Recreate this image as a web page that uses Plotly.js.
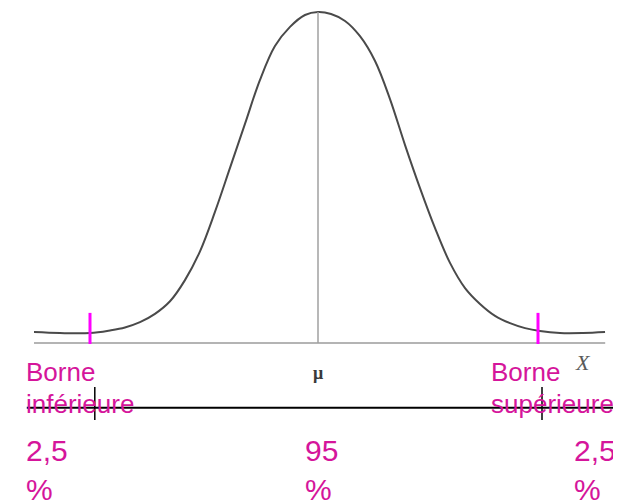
<!DOCTYPE html>
<html>
<head>
<meta charset="utf-8">
<script src="https://cdn.plot.ly/plotly-3.0.1.min.js"></script>
<style>
  html, body { margin: 0; padding: 0; background: #ffffff; }
  #chart { width: 613px; height: 502px; overflow: hidden; }
</style>
</head>
<body>
<div id="chart"></div>
<script>
// Bell curve (x in sigma-like units around the mean, height relative to the peak)
const curveX = [-3.550, -3.225, -2.850, -2.600, -2.413, -2.225, -2.038, -1.850, -1.663, -1.475,
                -1.288, -1.100, -0.913, -0.725, -0.538, -0.350, -0.163, 0.000, 0.163, 0.338,
                 0.525, 0.713, 0.900, 1.088, 1.275, 1.463, 1.650, 1.838, 2.025, 2.213,
                 2.400, 2.588, 2.775, 3.025, 3.313, 3.588];
const curveY = [0.033, 0.030, 0.030, 0.038, 0.047, 0.063, 0.088, 0.126, 0.190, 0.277,
                0.396, 0.529, 0.662, 0.795, 0.897, 0.955, 0.991, 1.000, 0.994, 0.973,
                0.927, 0.852, 0.737, 0.598, 0.468, 0.347, 0.242, 0.166, 0.118, 0.082,
                0.060, 0.045, 0.036, 0.030, 0.030, 0.033];

const meanX = 0;
const peakY = 1.0;
const boundsX = [-2.85, 2.75];          // lower / upper bound marks on the curve
const scaleTicksX = [-2.79, 2.80];      // marks on the lower scale line
const boundWord = "Borne";
const boundSides = ["inférieure", "supérieure"];
const shareLabels = ["2,5<br>%", "95<br>%", "2,5<br>%"];

const W = 613, H = 502;
const xRange = [-3.975, 3.6875];
const yRange = [-0.4804, 1.0363];
const px = v => v / W;            // pixel -> paper x
const py = v => 1 - v / H;        // pixel -> paper y

const pink = "#d5159b";
const magenta = "#ff00ff";

const traces = [{
  x: curveX, y: curveY, type: "scatter", mode: "lines",
  line: { color: "#4a4a4a", width: 2, shape: "spline", smoothing: 1.0 },
  hoverinfo: "skip"
}];

const shapes = [
  // horizontal axis under the curve
  { type: "line", xref: "x", yref: "y", x0: -3.55, x1: 3.59, y0: 0, y1: 0,
    line: { color: "#b4b4b4", width: 2 } },
  // mean line
  { type: "line", xref: "x", yref: "y", x0: meanX, x1: meanX, y0: 0, y1: peakY,
    line: { color: "#a0a0a0", width: 1.5 } },
  // lower scale line
  { type: "line", xref: "x", yref: "y", x0: -3.64, x1: 3.69, y0: -0.196, y1: -0.196,
    line: { color: "#000000", width: 2 } }
];
boundsX.forEach(b => shapes.push({
  type: "line", xref: "x", yref: "y", x0: b, x1: b, y0: -0.003, y1: 0.091,
  line: { color: magenta, width: 3 }
}));
scaleTicksX.forEach(b => shapes.push({
  type: "line", xref: "x", yref: "y", x0: b, x1: b, y0: -0.133, y1: -0.233,
  line: { color: "#000000", width: 1.5 }
}));

const labelFont = { family: "Liberation Sans, Arial, sans-serif", size: 26, color: pink };
const shareFont = { family: "Liberation Sans, Arial, sans-serif", size: 30, color: pink };

const annotations = [
  { text: "<b>\u03bc</b>", xref: "paper", yref: "paper", x: px(318), y: py(373),
    xanchor: "center", yanchor: "middle", showarrow: false,
    font: { family: "Liberation Serif, serif", size: 18, color: "#3a3a3a" } },
  { text: "<i>X</i>", xref: "paper", yref: "paper", x: px(583), y: py(362),
    xanchor: "center", yanchor: "middle", showarrow: false,
    font: { family: "Liberation Serif, serif", size: 22, color: "#5a5a5a" } },
  { text: shareLabels[0], xref: "paper", yref: "paper", x: px(24), y: py(432),
    xanchor: "left", yanchor: "top", align: "left", showarrow: false, font: shareFont },
  { text: shareLabels[1], xref: "paper", yref: "paper", x: px(303), y: py(432),
    xanchor: "left", yanchor: "top", align: "left", showarrow: false, font: shareFont },
  { text: shareLabels[2], xref: "paper", yref: "paper", x: px(572), y: py(432),
    xanchor: "left", yanchor: "top", align: "left", showarrow: false, font: shareFont }
];
// two-line bound labels, one annotation per line for tight line spacing
[24, 489].forEach((left, i) => {
  annotations.push({ text: boundWord, xref: "paper", yref: "paper", x: px(left), y: py(355),
    xanchor: "left", yanchor: "top", align: "left", showarrow: false, font: labelFont });
  annotations.push({ text: boundSides[i], xref: "paper", yref: "paper", x: px(left), y: py(387),
    xanchor: "left", yanchor: "top", align: "left", showarrow: false, font: labelFont });
});

const layout = {
  width: W, height: H,
  margin: { l: 0, r: 0, t: 0, b: 0, pad: 0 },
  paper_bgcolor: "#ffffff", plot_bgcolor: "#ffffff",
  showlegend: false,
  xaxis: { range: xRange, visible: false, fixedrange: true },
  yaxis: { range: yRange, visible: false, fixedrange: true },
  shapes: shapes,
  annotations: annotations
};

Plotly.newPlot("chart", traces, layout, { displayModeBar: false, staticPlot: true });
</script>
</body>
</html>
